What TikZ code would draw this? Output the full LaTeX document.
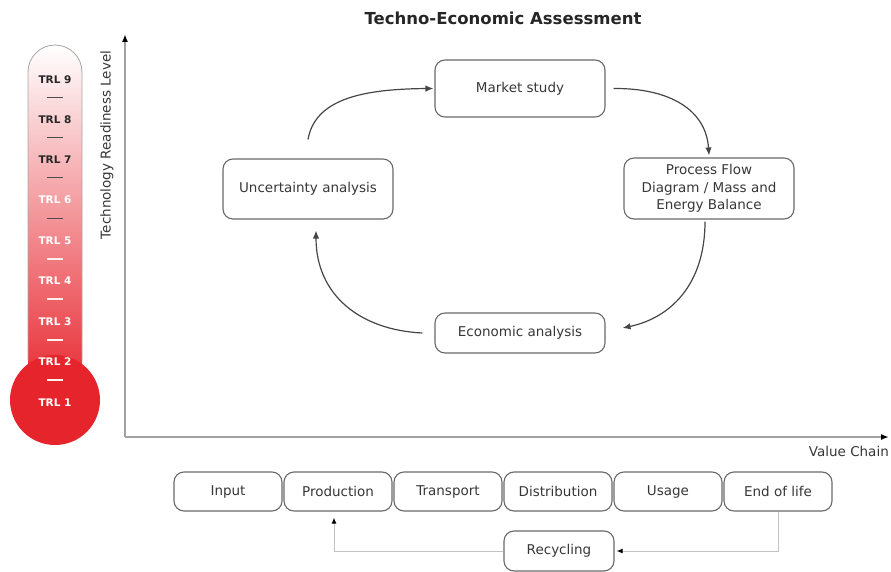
\documentclass[tikz,border=0pt]{standalone}
\usepackage{fontspec}
\setmainfont{DejaVu Sans}
\usetikzlibrary{arrows.meta}
\definecolor{trlred}{RGB}{230,36,44}
\definecolor{boxline}{RGB}{105,105,105}
\definecolor{txt}{RGB}{55,55,55}
\definecolor{arr}{RGB}{70,70,70}
\definecolor{axisgray}{RGB}{160,160,160}
\definecolor{connlight}{RGB}{195,195,195}
\definecolor{dashlt}{RGB}{255,240,240}
\begin{document}
\begin{tikzpicture}[x=1pt,y=-1pt,
  box/.style={draw=boxline, line width=1.1pt, rounded corners=10pt, align=center, text=txt,
    font=\fontsize{13.5}{17.5}\selectfont, inner sep=0pt},
  cbox/.style={box, minimum width=170pt},
  vbox/.style={box, minimum width=108pt, minimum height=39pt},
  cyc/.style={draw=arr, line width=1.2pt, -{Latex[length=8pt,width=6.5pt]}},
  axisline/.style={draw=axisgray, line width=1.8pt, -{Latex[length=8pt,width=6pt,color=black]}},
  conn/.style={draw=connlight, line width=1pt, -{Latex[length=6pt,width=5pt,color=black]}},
  trl/.style={font=\fontsize{10.5}{12}\selectfont\bfseries, inner sep=0pt},
  lbl/.style={text=txt, font=\fontsize{13.5}{16}\selectfont, inner sep=0pt}
]
\useasboundingbox (0,0) rectangle (891,572);

% title
\node[font=\fontsize{16.5}{20}\selectfont\bfseries, text=black!85, inner sep=0pt] (title) at (503,18) {Techno-Economic Assessment};

% thermometer
\shade[top color=white, bottom color=trlred, rounded corners=27pt] (28,45) rectangle (82,400);
\draw[black!35, line width=0.8pt, rounded corners=27pt] (28,360) -- (28,45) -- (82,45) -- (82,360);
\fill[trlred] (55,400) circle[radius=45pt];
\foreach \yy in {259,299,340,380}{
  \fill[dashlt] (47,\yy-0.6) rectangle (63,\yy+0.6);
}
\foreach \yy in {98,138,178,218}{
  \fill[black!70] (47,\yy-0.5) rectangle (63,\yy+0.5);
}
\foreach \n/\yy in {9/80,8/120,7/160}{
  \node[trl, text=black!85] (trl\n) at (55,\yy) {TRL \n};
}
\foreach \n/\yy in {6/200,5/241,4/281,3/322,2/362,1/403}{
  \node[trl, text=white] (trl\n) at (55,\yy) {TRL \n};
}

% axes
\coordinate (origin) at (125,437);
\coordinate (ytop) at (125,34);
\coordinate (xend) at (889,437);
\draw[axisline] (origin) -- (ytop);
\draw[axisline] (origin) -- (xend);
\node[lbl, rotate=90] (ylab) at (107,145) {Technology Readiness Level};
\node[lbl, anchor=east] (xlab) at (889,451) {Value Chain};

% cycle boxes
\node[cbox, minimum height=57pt] (ms) at (520,88.5) {Market study};
\node[cbox, minimum height=61pt] (pf) at (709,188.5) {Process Flow\\Diagram / Mass and\\Energy Balance};
\node[cbox, minimum height=60pt] (unc) at (308,189) {Uncertainty analysis};
\node[cbox, minimum height=40pt] (ea) at (520,333) {Economic analysis};

\draw[cyc] ([yshift=19pt]unc.north) .. controls (315,100) and (360,89) .. ([xshift=-1pt]ms.west);
\draw[cyc] ([xshift=8pt]ms.east) .. controls (670,88) and (706,110) .. ([yshift=2pt]pf.north);
\draw[cyc] ([xshift=-4pt,yshift=-2pt]pf.south) .. controls (705,285) and (670,318) .. ([xshift=17pt,yshift=5pt]ea.east);
\draw[cyc] ([xshift=-12pt]ea.west) .. controls (360,330) and (316,295) .. ([xshift=8pt,yshift=-11pt]unc.south);

% value chain
\node[vbox] (inp) at (228,491.5) {Input};
\node[vbox] (prod) at (338,491.5) {Production};
\node[vbox] (tra) at (448,491.5) {Transport};
\node[vbox] (dis) at (558,491.5) {Distribution};
\node[vbox] (usa) at (668,491.5) {Usage};
\node[vbox] (eol) at (778,491.5) {End of life};
\node[box, minimum width=110pt, minimum height=40pt] (rec) at (559,551) {Recycling};

\draw[conn, shorten >=2pt] (eol.south) |- (rec.east);
\draw[conn, shorten >=6pt] (rec.west) -| ([xshift=-4pt]prod.south);
\end{tikzpicture}
\end{document}
